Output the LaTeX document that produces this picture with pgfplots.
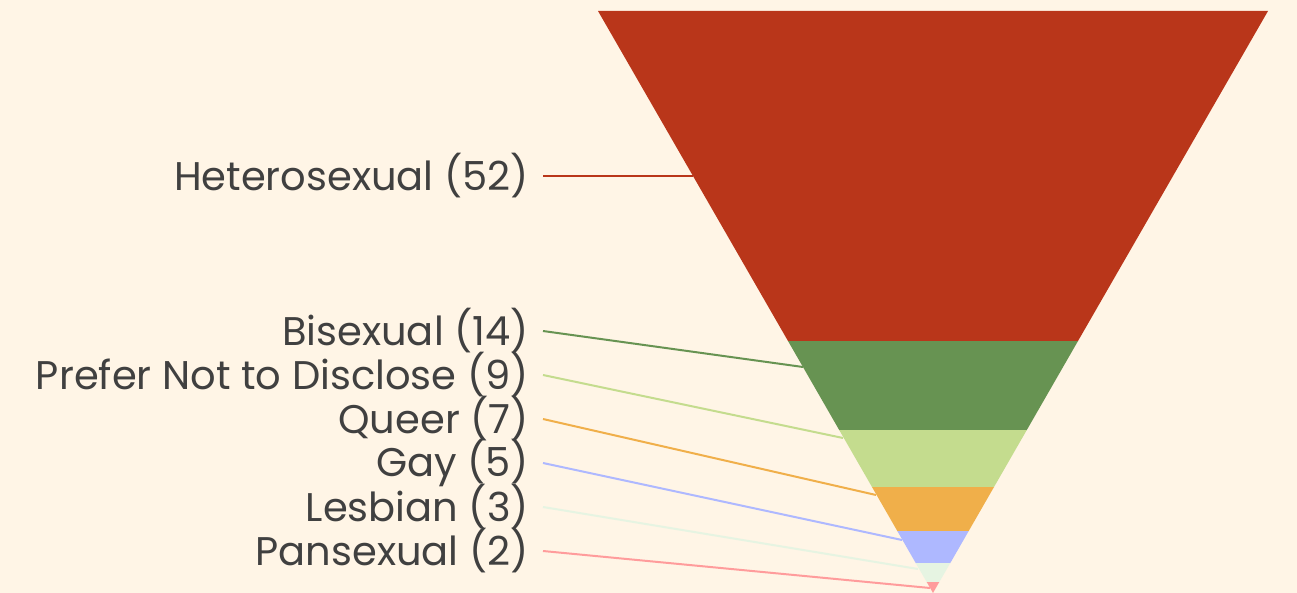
\documentclass[border=0pt]{standalone}
\usepackage{pgfplots}
\pgfplotsset{compat=1.18}
\usepackage{fontspec}
\setmainfont{Poppins}
\definecolor{bg}{HTML}{FFF5E6}
\definecolor{txt}{HTML}{404040}
\definecolor{c1}{HTML}{B9361A}
\definecolor{c2}{HTML}{679352}
\definecolor{c3}{HTML}{C4DC8E}
\definecolor{c4}{HTML}{F0AF4A}
\definecolor{c5}{HTML}{AEB8FF}
\definecolor{c6}{HTML}{E6F4E2}
\definecolor{c7}{HTML}{FF9C9C}
\tikzset{lbl/.style={anchor=east, text=txt, inner sep=0pt,
    font=\fontsize{40}{46}\selectfont}}
\begin{document}
\begin{tikzpicture}
\begin{axis}[
  width=1297pt, height=593pt, scale only axis,
  xmin=0, xmax=1297, ymin=0, ymax=593,
  y dir=reverse, hide axis, clip=false,
]
% background
\addplot[fill=bg, draw=none] coordinates {(0,0) (1297,0) (1297,593) (0,593)};
% funnel segments (height proportional to count, total 92)
\addplot[fill=c1, draw=none] coordinates {(598,11) (1268,11) (1078,341) (788,341)};
\addplot[fill=c2, draw=none] coordinates {(788,341) (1078,341) (1026.8,430) (839.2,430)};
\addplot[fill=c3, draw=none] coordinates {(839.2,430) (1026.8,430) (994,487) (872,487)};
\addplot[fill=c4, draw=none] coordinates {(872,487) (994,487) (968.7,531) (897.3,531)};
\addplot[fill=c5, draw=none] coordinates {(897.3,531) (968.7,531) (950.3,563) (915.7,563)};
\addplot[fill=c6, draw=none] coordinates {(915.7,563) (950.3,563) (939.3,582) (926.7,582)};
\addplot[fill=c7, draw=none] coordinates {(926.7,582) (939.3,582) (933,593)};
% leader lines
\addplot[c1, line width=2pt] coordinates {(543,176) (693,176)};
\addplot[c2, line width=2pt] coordinates {(543,331) (803,367)};
\addplot[c3, line width=2pt] coordinates {(543,375) (843,438)};
\addplot[c4, line width=2pt] coordinates {(543,419) (876,495)};
\addplot[c5, line width=2pt] coordinates {(543,463) (902,540)};
\addplot[c6, line width=2pt] coordinates {(543,507) (918,569)};
\addplot[c7, line width=2pt] coordinates {(543,551) (930,588)};
% labels
\node[lbl] at (axis cs:529,176) {Heterosexual (52)};
\node[lbl] at (axis cs:529,331) {Bisexual (14)};
\node[lbl] at (axis cs:529,375) {Prefer Not to Disclose (9)};
\node[lbl] at (axis cs:529,419) {Queer (7)};
\node[lbl] at (axis cs:529,463) {Gay (5)};
\node[lbl] at (axis cs:529,507) {Lesbian (3)};
\node[lbl] at (axis cs:529,551) {Pansexual (2)};
\end{axis}
\end{tikzpicture}
\end{document}
